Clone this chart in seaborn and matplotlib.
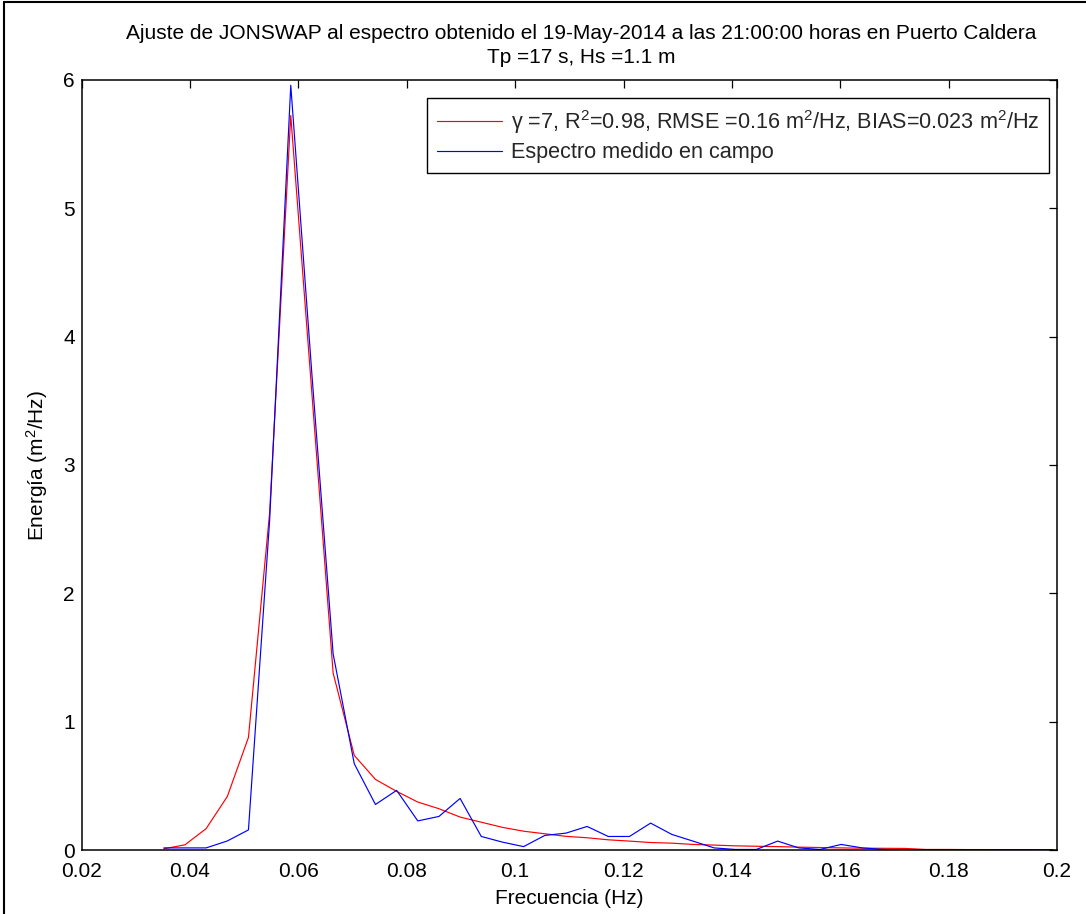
import numpy as np
import pandas as pd
import matplotlib
matplotlib.use("Agg")
import matplotlib.pyplot as plt
from matplotlib.lines import Line2D
import seaborn as sns

# ---------------- data ----------------
freq = [0.03516, 0.03906, 0.04297, 0.04688, 0.05078, 0.05469, 0.05859, 0.06250,
        0.06641, 0.07031, 0.07422, 0.07813, 0.08203, 0.08594, 0.08984, 0.09375,
        0.09766, 0.10156, 0.10547, 0.10938, 0.11328, 0.11719, 0.12109, 0.12500,
        0.12891, 0.13281, 0.13672, 0.14063, 0.14453, 0.14844, 0.15234, 0.15625,
        0.16016, 0.16406, 0.16797, 0.17188, 0.17578, 0.17969, 0.18359, 0.18750,
        0.19141, 0.19531, 0.19922]

jonswap = [0.013, 0.044, 0.17, 0.42, 0.88, 2.63, 5.72, 3.55,
           1.38, 0.74, 0.553, 0.46, 0.377, 0.325, 0.26, 0.22,
           0.18, 0.15, 0.13, 0.11, 0.099, 0.083, 0.073, 0.062,
           0.057, 0.047, 0.042, 0.036, 0.033, 0.030, 0.026, 0.023,
           0.020, 0.018, 0.017, 0.016, 0.008, 0.008, 0.007, 0.007,
           0.006, 0.006, 0.005]

medido = [0.02, 0.02, 0.02, 0.074, 0.16, 2.57, 5.955, 3.70,
          1.53, 0.675, 0.358, 0.468, 0.23, 0.265, 0.405, 0.109,
          0.065, 0.03, 0.117, 0.135, 0.187, 0.109, 0.109, 0.213,
          0.125, 0.073, 0.02, 0.008, 0.008, 0.073, 0.02, 0.008,
          0.047, 0.02, 0.008, 0.005, 0.005, 0.005, 0.005, 0.005,
          0.005, 0.005, 0.005]

xticks = [0.02, 0.04, 0.06, 0.08, 0.1, 0.12, 0.14, 0.16, 0.18, 0.2]
xticklabels = ["0.02", "0.04", "0.06", "0.08", "0.1", "0.12", "0.14", "0.16", "0.18", "0.2"]
yticks = [0, 1, 2, 3, 4, 5, 6]

label_fit = r"γ =7, R$\mathregular{^2}$=0.98, RMSE =0.16 m$\mathregular{^2}$/Hz, BIAS=0.023 m$\mathregular{^2}$/Hz"
label_meas = "Espectro medido en campo"
title = ("Ajuste de JONSWAP al espectro obtenido el 19-May-2014 a las 21:00:00 horas en Puerto Caldera\n"
         "Tp =17 s, Hs =1.1 m")
ylabel = r"Energía (m$\mathregular{^2}$/Hz)"
xlabel = "Frecuencia (Hz)"

df = pd.DataFrame({
    "freq": freq * 2,
    "energia": jonswap + medido,
    "serie": [label_fit] * len(freq) + [label_meas] * len(freq),
})

# ---------------- style ----------------
sns.set_theme(style="white")
plt.rcParams["font.family"] = ["Liberation Sans", "DejaVu Sans"]
plt.rcParams["mathtext.fontset"] = "custom"
plt.rcParams["mathtext.rm"] = "Liberation Sans"
plt.rcParams["mathtext.it"] = "Liberation Sans:italic"
plt.rcParams["font.size"] = 15

fig = plt.figure(figsize=(10.86, 9.14), dpi=100)
ax = fig.add_axes([0.0752, 0.0695, 0.8981, 0.8435])

sns.lineplot(data=df, x="freq", y="energia", hue="serie",
             palette={label_fit: "#FF0000", label_meas: "#0000FF"},
             linewidth=0.85, ax=ax, legend=True)

ax.set_xlim(0.02, 0.2)
ax.set_ylim(0, 6)
ax.set_xticks(xticks)
ax.set_xticklabels(xticklabels)
ax.set_yticks(yticks)
ax.tick_params(direction="in", length=6, width=0.9, color="black",
               top=True, right=True, labelsize=15, labelcolor="black")
ax.tick_params(axis="x", pad=8)
ax.tick_params(axis="y", pad=5)
for s in ax.spines.values():
    s.set_color("black")
    s.set_linewidth(1.1)
    s.set_visible(True)

ax.set_xlabel(xlabel, fontsize=15, color="black", labelpad=6)
ax.set_ylabel(ylabel, fontsize=15, color="black", labelpad=9)
ax.set_title(title, fontsize=15, color="black", pad=12, linespacing=1.3, x=0.512)

leg = ax.legend(loc="upper right", bbox_to_anchor=(0.9918, 0.976), borderaxespad=0,
                frameon=True, fancybox=False, edgecolor="black", framealpha=1,
                fontsize=15.6, handlelength=3.0, handletextpad=0.4,
                borderpad=0.45, labelspacing=0.3)
leg.get_frame().set_linewidth(1.0)

# figure border (left and top edges)
fig.add_artist(Line2D([0.004, 0.004], [0, 0.998], transform=fig.transFigure,
                      color="black", linewidth=1.5))
fig.add_artist(Line2D([0.004, 1.0], [0.998, 0.998], transform=fig.transFigure,
                      color="black", linewidth=1.5))

fig.savefig("out.png", dpi=100, facecolor="white")
